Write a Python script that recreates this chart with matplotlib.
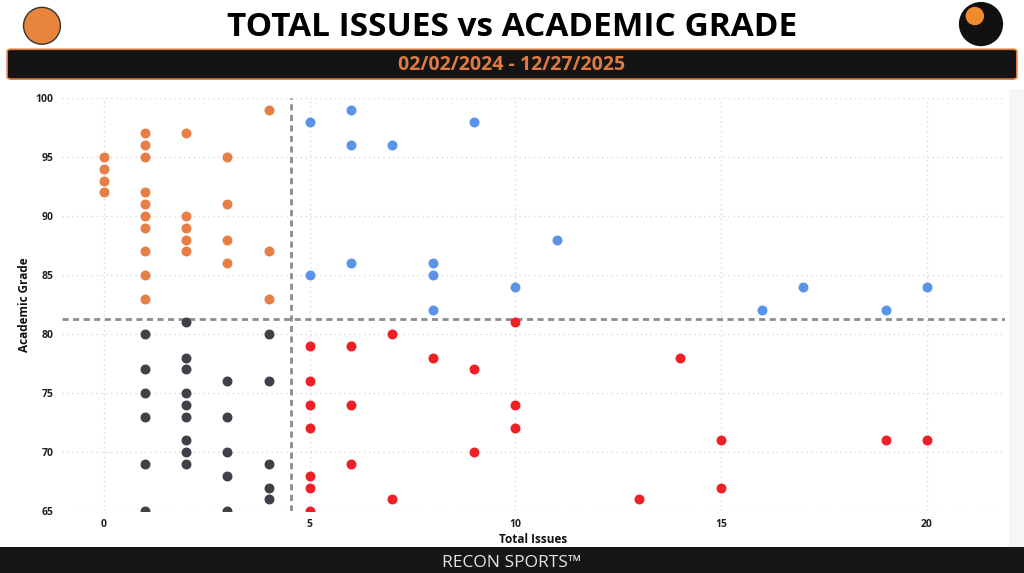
import matplotlib.pyplot as plt
from matplotlib.patches import FancyBboxPatch, Ellipse, Rectangle

plt.rcParams['font.family'] = ['Open Sans', 'DejaVu Sans']

# values (x = total issues, y = academic grade)
orange_x = [0, 0, 0, 0, 1, 1, 1, 1, 1, 1, 1, 1, 1, 1, 2, 2, 2, 2, 2, 3, 3, 3, 3, 4, 4, 4]
orange_y = [95, 94, 93, 92, 97, 96, 95, 92, 91, 90, 89, 87, 85, 83, 97, 90, 89, 88, 87, 95, 91, 88, 86, 99, 87, 83]

gray_x = [1, 1, 1, 1, 1, 1, 2, 2, 2, 2, 2, 2, 2, 2, 2, 3, 3, 3, 3, 3, 4, 4, 4, 4, 4]
gray_y = [80, 77, 75, 73, 69, 65, 81, 78, 77, 75, 74, 73, 71, 70, 69, 76, 73, 70, 68, 65, 80, 76, 69, 67, 66]

blue_x = [5, 5, 6, 6, 6, 7, 8, 8, 8, 9, 10, 11, 16, 17, 19, 20]
blue_y = [98, 85, 99, 96, 86, 96, 86, 85, 82, 98, 84, 88, 82, 84, 82, 84]

red_x = [5, 5, 5, 5, 5, 5, 5, 6, 6, 6, 7, 7, 8, 9, 9, 10, 10, 10, 13, 14, 15, 15, 19, 20]
red_y = [79, 76, 74, 72, 68, 67, 65, 79, 74, 69, 80, 66, 78, 77, 70, 81, 74, 72, 66, 78, 71, 67, 71, 71]

avg_issues = 4.55
avg_grade = 81.3

x_ticks = [0, 5, 10, 15, 20]
y_ticks = [65, 70, 75, 80, 85, 90, 95, 100]

fig = plt.figure(figsize=(10.24, 5.73), dpi=100)
fig.patch.set_facecolor('white')
ratio = 10.24 / 5.73

# light panel on the right edge
fig.patches.append(Rectangle((0.985, 0.045), 0.015, 0.8, transform=fig.transFigure,
                             facecolor='#f6f6f6', edgecolor='none', zorder=0))

ax = fig.add_axes([0.0605, 0.108, 0.921, 0.721])
ax.set_facecolor('white')

ax.scatter(orange_x, orange_y, s=38, color='#E57F45', zorder=3)
ax.scatter(gray_x, gray_y, s=38, color='#3F4148', zorder=3)
ax.scatter(blue_x, blue_y, s=38, color='#5B93EA', zorder=3)
ax.scatter(red_x, red_y, s=38, color='#EE1F25', zorder=3)

ax.axvline(avg_issues, color='#8c8c8c', linestyle=(0, (2.2, 1.6)), linewidth=2, zorder=2)
ax.axhline(avg_grade, color='#8c8c8c', linestyle=(0, (2.2, 1.6)), linewidth=2, zorder=2)

ax.set_xlim(-1.02, 21.9)
ax.set_ylim(65, 100)
ax.set_xticks(x_ticks)
ax.set_yticks(y_ticks)
ax.grid(True, color='#d9d9d9', linestyle=(0, (1, 2.5)), linewidth=1)
ax.set_axisbelow(True)
for sp in ax.spines.values():
    sp.set_visible(False)
ax.tick_params(length=0, labelsize=7.5, colors='#222222', pad=6)
for lbl in ax.get_xticklabels() + ax.get_yticklabels():
    lbl.set_fontweight('bold')

ax.set_xlabel('Total Issues', fontsize=8.5, fontweight='bold', color='#111111', labelpad=2)
ax.set_ylabel('Academic Grade', fontsize=8.5, fontweight='bold', color='#111111', labelpad=3)

# header
fig.text(0.5, 0.952, 'TOTAL ISSUES vs ACADEMIC GRADE', ha='center', va='center',
         fontsize=24, fontweight='bold', color='black')
band = FancyBboxPatch((0.007, 0.862), 0.986, 0.052, transform=fig.transFigure,
                      boxstyle='round,pad=0,rounding_size=0.004',
                      facecolor='#141414', edgecolor='#E07A3E', linewidth=1.2)
fig.patches.append(band)
fig.text(0.5, 0.887, '02/02/2024 - 12/27/2025', ha='center', va='center',
         fontsize=14, fontweight='bold', color='#E07A3E')

# simple logo stand-ins
d = 0.036
fig.patches.append(Ellipse((0.041, 0.955), d, d * ratio, transform=fig.transFigure,
                           facecolor='#E8843C', edgecolor='#333333', linewidth=1))
fig.patches.append(Ellipse((0.958, 0.958), d * 1.2, d * 1.2 * ratio, transform=fig.transFigure,
                           facecolor='#111111', edgecolor='none'))
fig.patches.append(Ellipse((0.952, 0.972), d * 0.5, d * 0.5 * ratio, transform=fig.transFigure,
                           facecolor='#F08A2A', edgecolor='none'))

# footer
fig.patches.append(Rectangle((0, 0), 1, 0.045, transform=fig.transFigure,
                             facecolor='#161616', edgecolor='none'))
fig.text(0.5, 0.018, 'RECON SPORTS\u2122', ha='center', va='center',
         fontsize=12.5, color='#e6e6e6')

fig.savefig('out.png', dpi=100)
